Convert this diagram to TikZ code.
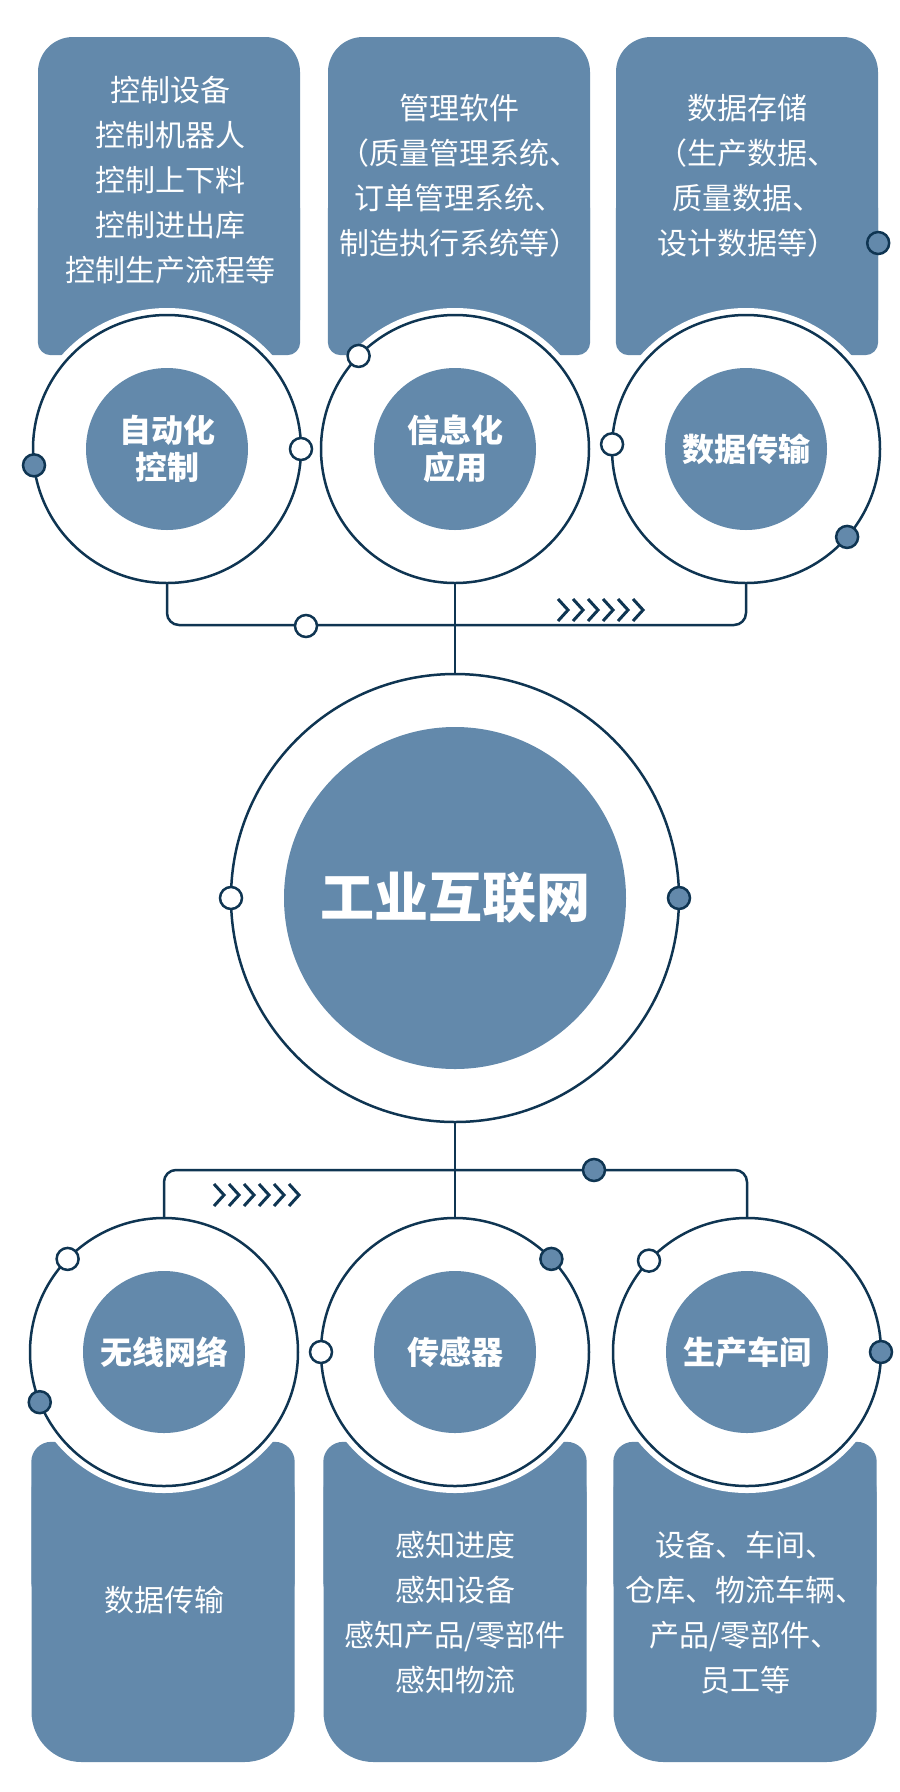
\documentclass[tikz,border=0pt]{standalone}
\usepackage{fontspec}
\usetikzlibrary{positioning}
\newfontfamily\cjk{Noto Sans CJK SC}
\definecolor{steel}{HTML}{6389AB}
\definecolor{navy}{HTML}{0F3552}
\tikzset{
  topbox/.style={fill=steel,minimum width=262pt,minimum height=318pt,inner sep=0pt,rounded corners=35pt},
  botbox/.style={fill=steel,minimum width=263pt,minimum height=320pt,inner sep=0pt,rounded corners=50pt},
  boxtext/.style={text=white,align=center,inner sep=0pt,font=\cjk\fontsize{30}{45}\selectfont},
  ring/.style={circle,fill=white,draw=navy,line width=2.5pt,minimum size=268pt,inner sep=0pt,outer sep=0pt,preaction={draw=white,line width=14pt}},
  core/.style={circle,fill=steel,minimum size=162pt,inner sep=0pt,text=white,align=center,font=\cjk\bfseries\fontsize{32}{37}\selectfont},
  dotw/.style={circle,draw=navy,line width=2.5pt,fill=white,minimum size=22pt,inner sep=0pt},
  dotf/.style={dotw,fill=steel},
  wire/.style={draw=navy,line width=2.5pt,rounded corners=12pt},
  chev/.style={draw=navy,line width=3pt},
}
\begin{document}
\begin{tikzpicture}[x=1pt,y=-1pt]
  \useasboundingbox[fill=white] (0,0) rectangle (900,1792);
  % top panels
  \node[topbox] (b1) at (169,196) {};
  \node[topbox] (b2) at (459,196) {};
  \node[topbox] (b3) at (747,196) {};
  \foreach \b in {b1,b2,b3} \fill[steel,rounded corners=13pt] (\b.west) rectangle (\b.south east);
  \node[boxtext] (t1) at (170,180) {控制设备\\控制机器人\\控制上下料\\控制进出库\\控制生产流程等};
  \node[boxtext] (t2) at (459,176) {管理软件\\（质量管理系统、\\订单管理系统、\\制造执行系统等）};
  \node[boxtext] (t3) at (747,176) {数据存储\\（生产数据、\\质量数据、\\设计数据等）};
  % bottom panels
  \node[botbox] (e1) at (163,1602) {};
  \node[botbox] (e2) at (455,1602) {};
  \node[botbox] (e3) at (745,1602) {};
  \foreach \b in {e1,e2,e3} \fill[steel,rounded corners=20pt] (\b.north west) rectangle (\b.east);
  \node[boxtext] (s1) at (164,1600) {数据传输};
  \node[boxtext] (s2) at (455,1613) {感知进度\\感知设备\\感知产品/零部件\\感知物流};
  \node[boxtext] (s3) at (745,1613) {设备、车间、\\仓库、物流车辆、\\产品/零部件、\\员工等};
  % rings
  \node[ring] (c1) at (167,449) {};
  \node[ring] (c2) at (455,449) {};
  \node[ring] (c3) at (746,449) {};
  \node[core] (k1) at (c1) {自动化\\控制};
  \node[core] (k2) at (c2) {信息化\\应用};
  \node[core] (k3) at (c3) {数据传输};
  \node[ring,minimum size=448pt] (hub) at (455,898) {};
  \node[core,minimum size=342pt,font=\cjk\bfseries\fontsize{54}{60}\selectfont] (hubcore) at (hub) {工业互联网};
  \node[ring] (d1) at (164,1352) {};
  \node[ring] (d2) at (455,1352) {};
  \node[ring] (d3) at (747,1352) {};
  \node[core] (m1) at (d1) {无线网络};
  \node[core] (m2) at (d2) {传感器};
  \node[core] (m3) at (d3) {生产车间};
  % wires
  \draw[wire] (c1.south) -- ++(0,42) -| (c3.south);
  \draw[wire] (c2.south) -- (hub.north);
  \draw[wire] (d1.north) -- ++(0,-48) -| (d3.north);
  \draw[wire] (hub.south) -- (d2.north);
  \foreach \i in {0,...,5} \draw[chev] (558+15*\i,599) -- ++(10,11) -- ++(-10,11);
  \foreach \i in {0,...,5} \draw[chev] (214+15*\i,1184) -- ++(10,11) -- ++(-10,11);
  % dots
  \node[dotw] at (c1.0) {};
  \node[dotf] at (c1.187) {};
  \node[dotw] at (c2.136) {};
  \node[dotw] at (c3.178) {};
  \node[dotf] at (c3.-41) {};
  \node[dotf] at ([yshift=-47pt]b3.east) {};
  \node[dotw] at (306,626) {};
  \node[dotw] at (hub.180) {};
  \node[dotf] at (hub.0) {};
  \node[dotf] at (594,1170) {};
  \node[dotw] at (d1.136) {};
  \node[dotf] at (d1.-158) {};
  \node[dotf] at (d2.44) {};
  \node[dotw] at (d2.180) {};
  \node[dotw] at (d3.137) {};
  \node[dotf] at (d3.0) {};
\end{tikzpicture}
\end{document}
